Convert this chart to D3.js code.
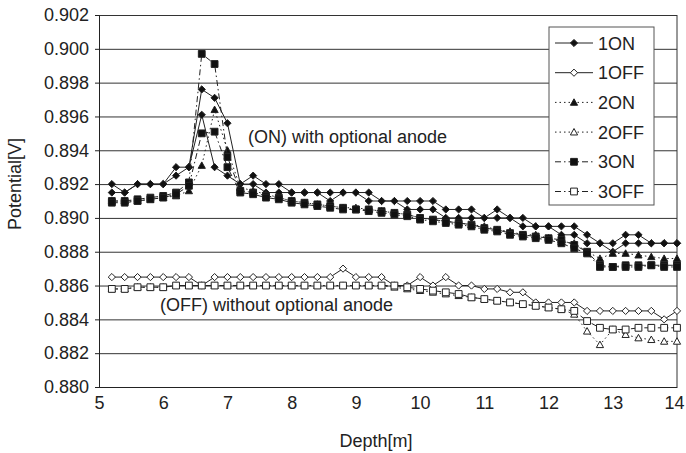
<!DOCTYPE html>
<html>
<head>
<meta charset="utf-8">
<script src="https://cdn.jsdelivr.net/npm/d3@7"></script>
<style>
    body { margin: 0; background: #fff; }
    text { font-family: "Liberation Sans", Arial, sans-serif; fill: #222; }
</style>
</head>
<body>
<div id="chart"></div>
<script>
let depth = [5.2, 5.4, 5.6, 5.8, 6.0, 6.2, 6.4, 6.6, 6.8, 7.0, 7.2, 7.4, 7.6, 7.8, 8.0, 8.2, 8.4, 8.6, 8.8, 9.0,
    9.2, 9.4, 9.6, 9.8, 10.0, 10.2, 10.4, 10.6, 10.8, 11.0, 11.2, 11.4, 11.6, 11.8, 12.0, 12.2, 12.4, 12.6, 12.8, 13.0,
    13.2, 13.4, 13.6, 13.8, 14.0];

let on_1 = [.8920, .8915, .8920, .8920, .8920, .8930, .8930, .8976, .8971, .8956, .8920, .8925, .8920, .8920, .8915,
    .8915, .8915, .8915, .8915, .8915, .8915, .8910, .8910, .8910, .8910, .8910, .8905, .8905, .8905, .8900, .8905,
    .8900, .8895, .8895, .8895, .8895, .8895, .8890, .8885, .8885, .8890, .8890, .8885, .8885, .8885];
let on_1b = [.8915, .8915, .8920, .8920, .8920, .8925, .8930, .8961, .8930, .8925, .8920, .8920, .8915, .8915, .8915,
    .8915, .8915, .8910, .8915, .8915, .8910, .8910, .8910, .8905, .8905, .8905, .8900, .8900, .8900, .8900, .8900,
    .8900, .8900, .8895, .8895, .8890, .8890, .8885, .8885, .8880, .8885, .8885, .8885, .8885, .8885];
let on_2 = [.8910, .8910, .8910, .8911, .8912, .8913, .8916, .8931, .8964, .8940, .8918, .8916, .8914, .8912, .8910,
    .8909, .8908, .8907, .8906, .8906, .8905, .8904, .8903, .8902, .8900, .8899, .8898, .8897, .8896, .8895, .8893,
    .8892, .8890, .8890, .8888, .8886, .8885, .8880, .8876, .8879, .8879, .8878, .8877, .8876, .8876];
let on_3 = [.8910, .8910, .8911, .8912, .8913, .8915, .8921, .8997, .8991, .8936, .8916, .8915, .8913, .8912, .8910,
    .8909, .8908, .8907, .8906, .8905, .8905, .8904, .8903, .8902, .8900, .8899, .8898, .8897, .8896, .8894, .8893,
    .8891, .8890, .8889, .8888, .8887, .8884, .8880, .8872, .8871, .8872, .8872, .8872, .8872, .8872];
let on_3b = [.8909, .8909, .8910, .8911, .8912, .8914, .8919, .8950, .8951, .8930, .8915, .8914, .8912, .8911, .8909,
    .8908, .8907, .8906, .8905, .8905, .8904, .8903, .8902, .8901, .8899, .8898, .8897, .8896, .8895, .8893, .8892,
    .8890, .8889, .8888, .8887, .8885, .8882, .8879, .8871, .8871, .8871, .8871, .8872, .8871, .8871];

let off_1 = [.8865, .8865, .8865, .8865, .8865, .8865, .8865, .8860, .8865, .8865, .8865, .8865, .8865, .8865, .8865,
    .8865, .8865, .8865, .8870, .8865, .8865, .8865, .8860, .8860, .8865, .8860, .8865, .8860, .8860, .8858, .8858,
    .8856, .8856, .8850, .8850, .8850, .8850, .8845, .8845, .8845, .8845, .8845, .8845, .8840, .8845];
let off_2 = [.8858, .8858, .8859, .8859, .8859, .8860, .8860, .8860, .8860, .8860, .8860, .8860, .8860, .8860, .8860,
    .8860, .8860, .8860, .8860, .8860, .8860, .8860, .8859, .8858, .8857, .8856, .8855, .8854, .8853, .8852, .8851,
    .8850, .8849, .8848, .8847, .8846, .8843, .8833, .8825, .8834, .8831, .8829, .8828, .8827, .8827];
let off_3 = [.8858, .8858, .8859, .8859, .8859, .8860, .8860, .8860, .8860, .8860, .8860, .8860, .8860, .8860, .8860,
    .8860, .8860, .8860, .8860, .8860, .8860, .8860, .8860, .8859, .8858, .8857, .8856, .8855, .8853, .8852, .8851,
    .8850, .8849, .8848, .8847, .8846, .8845, .8839, .8835, .8834, .8834, .8835, .8835, .8835, .8835];

let y_ticks = [0.880, 0.882, 0.884, 0.886, 0.888, 0.890, 0.892, 0.894, 0.896, 0.898, 0.900, 0.902];
let x_ticks = [5, 6, 7, 8, 9, 10, 11, 12, 13, 14];

let series_list = [
    {name: "1ON", values: on_1, marker: "diamond", filled: true, dash: null, legend: true},
    {name: "1ON", values: on_1b, marker: "diamond", filled: true, dash: null, legend: false},
    {name: "1OFF", values: off_1, marker: "diamond", filled: false, dash: null, legend: true},
    {name: "2ON", values: on_2, marker: "triangle", filled: true, dash: "1.5,3", legend: true},
    {name: "2OFF", values: off_2, marker: "triangle", filled: false, dash: "1.5,3", legend: true},
    {name: "3ON", values: on_3, marker: "square", filled: true, dash: "6,3,1.5,3", legend: true},
    {name: "3ON", values: on_3b, marker: "square", filled: true, dash: "6,3,1.5,3", legend: false},
    {name: "3OFF", values: off_3, marker: "square", filled: false, dash: "6,3,1.5,3", legend: true}
];

let width_chart = 686;
let height_chart = 453;
let margin_chart = {top: 15, bottom: 66, left: 99, right: 9};
let font_size = 18;

let svg_chart = d3.select("#chart")
    .append("svg")
    .attr("width", width_chart)
    .attr("height", height_chart);

let xScale_chart = d3.scaleLinear().domain([5, 14])
    .range([margin_chart.left, width_chart - margin_chart.right]);
let yScale_chart = d3.scaleLinear().domain([0.880, 0.902])
    .range([height_chart - margin_chart.bottom, margin_chart.top]);

// grid lines + frame
svg_chart.append("g")
    .attr("class", "yGrid")
    .attr("transform", "translate(" + margin_chart.left + ",0)")
    .call(d3.axisLeft(yScale_chart).tickValues(y_ticks)
        .tickSize(-(xScale_chart.range()[1] - margin_chart.left)).tickFormat(""))
    .call(g => g.select(".domain").remove())
    .selectAll("line").attr("stroke", "#333").attr("stroke-width", 1);

svg_chart.append("line")
    .attr("x1", xScale_chart(14)).attr("x2", xScale_chart(14))
    .attr("y1", yScale_chart(0.902)).attr("y2", yScale_chart(0.880))
    .attr("stroke", "#333");

// axes
svg_chart.append("g")
    .attr("class", "yTicks")
    .attr("transform", "translate(" + margin_chart.left + ",0)")
    .call(d3.axisLeft(yScale_chart).tickValues(y_ticks).tickSize(4).tickPadding(6).tickFormat(d3.format(".3f")))
    .call(g => g.selectAll("text").style("font-size", font_size + "px").attr("fill", "#222"))
    .call(g => g.selectAll("line, path").attr("stroke", "#222"));

svg_chart.append("g")
    .attr("class", "xTicks")
    .attr("transform", "translate(0," + yScale_chart(0.880) + ")")
    .call(d3.axisBottom(xScale_chart).tickValues(x_ticks).tickSize(0).tickPadding(9).tickFormat(d3.format("d")))
    .call(g => g.selectAll("text").style("font-size", font_size + "px").attr("fill", "#222"))
    .call(g => g.selectAll("line, path").attr("stroke", "#222"))
    .call(g => g.selectAll(".tick").filter((d) => d === 14).select("text").attr("dx", "-3px"));

svg_chart.append("text")
    .attr("x", 376).attr("y", 447)
    .attr("text-anchor", "middle")
    .style("font-size", font_size + "px")
    .text("Depth[m]");

svg_chart.append("text")
    .attr("transform", "translate(21,184) rotate(-90)")
    .attr("text-anchor", "middle")
    .style("font-size", font_size + "px")
    .text("Potential[V]");

function marker_path(type, r) {
    if (type === "diamond") {
        return "M0," + (-r) + "L" + r + ",0L0," + r + "L" + (-r) + ",0Z";
    }
    if (type === "triangle") {
        return "M0," + (-r) + "L" + r + "," + (r * 0.8) + "L" + (-r) + "," + (r * 0.8) + "Z";
    }
    return "M" + (-r) + "," + (-r) + "h" + (2 * r) + "v" + (2 * r) + "h" + (-2 * r) + "Z";
}

let marker_size = {diamond: 3.6, triangle: 3.6, square: 3.4};

let line_gen = d3.line()
    .x((d, i) => xScale_chart(depth[i]))
    .y((d) => yScale_chart(d));

let svg_group_series = svg_chart.append("g").attr("id", "series_in_chart");

series_list.forEach((s) => {
    let g = svg_group_series.append("g");
    g.append("path")
        .datum(s.values)
        .attr("d", line_gen)
        .attr("fill", "none")
        .attr("stroke", "#222")
        .attr("stroke-width", 1)
        .attr("stroke-dasharray", s.dash);
    g.selectAll("path.mark")
        .data(s.values)
        .join("path")
        .attr("class", "mark")
        .attr("d", marker_path(s.marker, marker_size[s.marker]))
        .attr("transform", (d, i) => "translate(" + xScale_chart(depth[i]) + "," + yScale_chart(d) + ")")
        .attr("fill", s.filled ? "#111" : "#fff")
        .attr("stroke", "#222")
        .attr("stroke-width", 1);
});

// annotations
svg_chart.append("text")
    .attr("x", 248).attr("y", 143)
    .style("font-size", font_size + "px")
    .text("(ON) with optional anode");

svg_chart.append("text")
    .attr("x", 160).attr("y", 311)
    .style("font-size", font_size + "px")
    .text("(OFF) without optional anode");

// legend
let legend_box = {x: 549, y: 27, w: 105, h: 178};
let legend_items = series_list.filter((s) => s.legend);
let svg_legend = svg_chart.append("g").attr("id", "legend");
svg_legend.append("rect")
    .attr("x", legend_box.x).attr("y", legend_box.y)
    .attr("width", legend_box.w).attr("height", legend_box.h)
    .attr("fill", "#fff").attr("stroke", "#555");

legend_items.forEach((s, i) => {
    let cy = legend_box.y + 16 + i * 29.7;
    svg_legend.append("line")
        .attr("x1", legend_box.x + 6).attr("x2", legend_box.x + 44)
        .attr("y1", cy).attr("y2", cy)
        .attr("stroke", "#222").attr("stroke-dasharray", s.dash);
    svg_legend.append("path")
        .attr("d", marker_path(s.marker, marker_size[s.marker]))
        .attr("transform", "translate(" + (legend_box.x + 25) + "," + cy + ")")
        .attr("fill", s.filled ? "#111" : "#fff")
        .attr("stroke", "#222");
    svg_legend.append("text")
        .attr("x", legend_box.x + 49).attr("y", cy + 6.5)
        .style("font-size", font_size + "px")
        .text(s.name);
});
</script>
</body>
</html>
